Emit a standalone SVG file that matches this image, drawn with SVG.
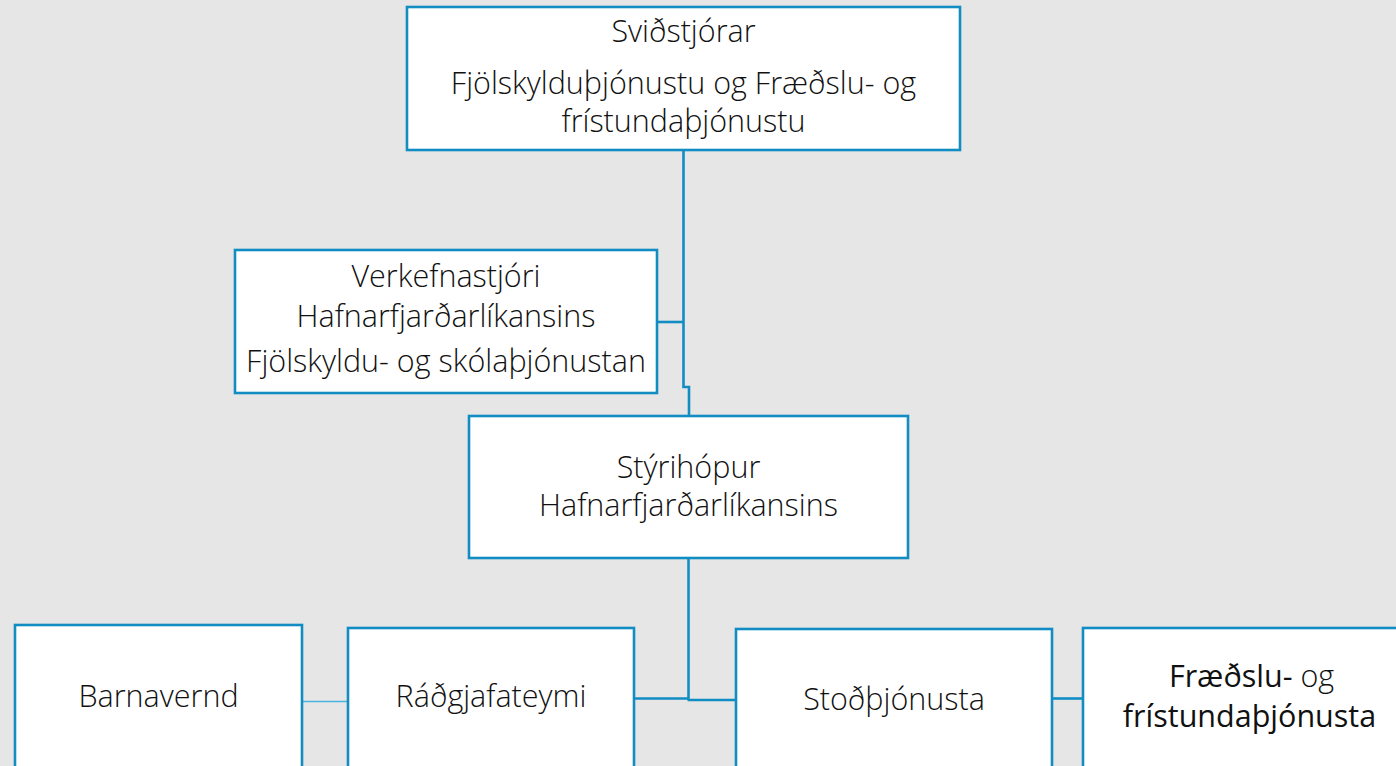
<svg xmlns="http://www.w3.org/2000/svg" width="1396" height="766" viewBox="0 0 1396 766">
<style>
.bg{fill:#E6E6E6}
.box{fill:#FFFFFF;stroke:#128DC4;stroke-width:2.6}
.t{font-family:"Open Sans","Liberation Sans",sans-serif;font-weight:300;font-size:30.5px;fill:#111111;text-anchor:middle}
.r{font-weight:400}
.c{fill:none;stroke:#128DC4;stroke-width:2.6}
.cl{fill:none;stroke:#4AB4E0;stroke-width:1.5}
</style>
<rect class="bg" x="0" y="0" width="1396" height="766"/>
<g id="connectors">
<path class="c" d="M683.5 150 V387 H689 V416"/>
<path class="c" d="M657 322 H683.5"/>
<path class="c" d="M688.5 558 V700"/>
<path class="c" d="M634 698.5 H688.5"/>
<path class="c" d="M687.5 700 H736"/>
<path class="c" d="M1052 698.5 H1083"/>
<path class="cl" d="M302 701.5 H350"/>
</g>
<g id="n1">
<rect class="box" x="407" y="7" width="553" height="143"/>
<text class="t" x="683.5" y="42">Sviðstjórar</text>
<text class="t" x="683.5" y="94">Fjölskylduþjónustu og Fræðslu- og</text>
<text class="t" x="683.5" y="132">frístundaþjónustu</text>
</g>
<g id="n2">
<rect class="box" x="235" y="250" width="422" height="143"/>
<text class="t" x="446" y="287">Verkefnastjóri</text>
<text class="t" x="446" y="327">Hafnarfjarðarlíkansins</text>
<text class="t" x="446" y="372">Fjölskyldu- og skólaþjónustan</text>
</g>
<g id="n3">
<rect class="box" x="469" y="416" width="439" height="142"/>
<text class="t" x="688.5" y="478">Stýrihópur</text>
<text class="t" x="688.5" y="516">Hafnarfjarðarlíkansins</text>
</g>
<g id="n4">
<rect class="box" x="15" y="625" width="287" height="170"/>
<text class="t" x="158.5" y="707">Barnavernd</text>
</g>
<g id="n5">
<rect class="box" x="348" y="628" width="286" height="170"/>
<text class="t" x="491" y="707">Ráðgjafateymi</text>
</g>
<g id="n6">
<rect class="box" x="736" y="629" width="316" height="170"/>
<text class="t" x="894" y="710">Stoðþjónusta</text>
</g>
<g id="n7">
<rect class="box" x="1083" y="628" width="340" height="170"/>
<text class="t" x="1251.5" y="687"><tspan class="r">Fræðslu-</tspan> og</text>
<text class="t r" x="1249.5" y="727">frístundaþjónusta</text>
</g>
</svg>
